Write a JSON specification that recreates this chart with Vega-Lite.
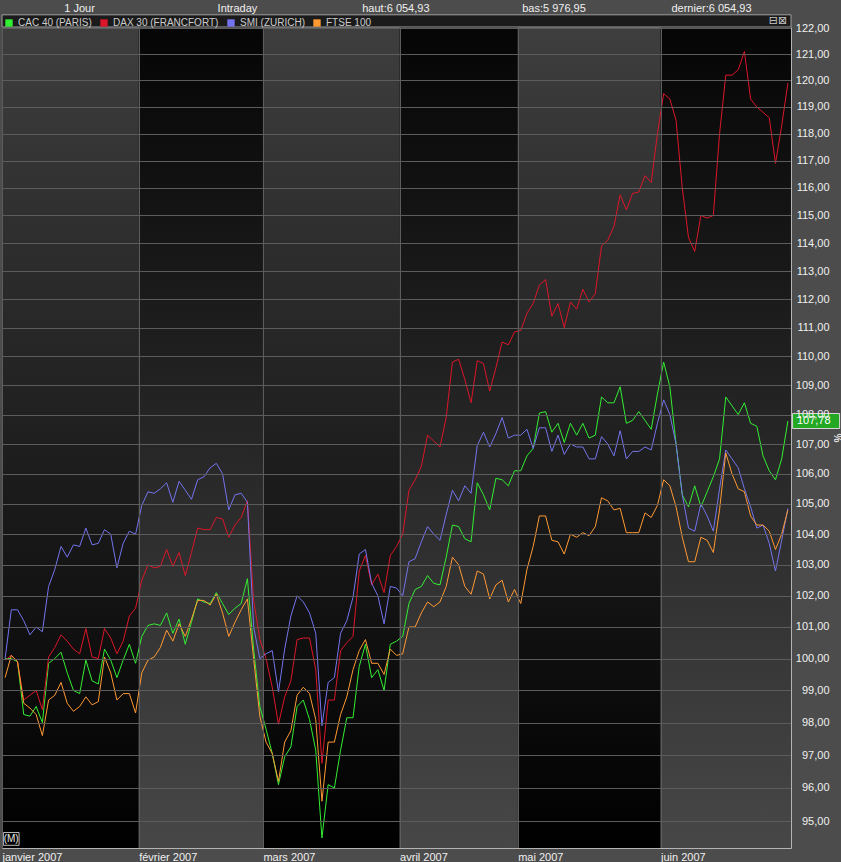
{
  "$schema": "https://vega.github.io/schema/vega-lite/v6.json",
  "width": 789,
  "height": 821,
  "autosize": {"type": "none"},
  "padding": {"left": 2, "top": 27, "right": 50, "bottom": 14},
  "background": "#4c4c4c",
  "config": {
    "view": {"stroke": null},
    "font": "Liberation Sans",
    "locale": {"number": {"decimal": ",", "thousands": "\u00a0", "grouping": [3], "currency": ["", "\u00a0€"]}}
  },
  "datasets": {
    "mois": [
      {"mois": "janvier 2007", "premiere": 1, "derniere": 22},
      {"mois": "février 2007", "premiere": 23, "derniere": 42},
      {"mois": "mars 2007", "premiere": 43, "derniere": 64},
      {"mois": "avril 2007", "premiere": 65, "derniere": 83},
      {"mois": "mai 2007", "premiere": 84, "derniere": 106},
      {"mois": "juin 2007", "premiere": 107, "derniere": 127}
    ],
    "cours": [
      {"s":1,"cac":100.0,"dax":99.95,"smi":100.0,"ftse":99.4},
      {"s":2,"cac":100.0,"dax":100.1,"smi":101.55,"ftse":100.1},
      {"s":3,"cac":99.9,"dax":99.9,"smi":101.55,"ftse":99.9},
      {"s":4,"cac":98.25,"dax":98.7,"smi":101.2,"ftse":98.6},
      {"s":5,"cac":98.2,"dax":98.85,"smi":100.75,"ftse":98.45},
      {"s":6,"cac":98.5,"dax":99.0,"smi":101.0,"ftse":98.25},
      {"s":7,"cac":98.0,"dax":98.4,"smi":100.85,"ftse":97.6},
      {"s":8,"cac":99.85,"dax":100.05,"smi":102.3,"ftse":98.7},
      {"s":9,"cac":100.0,"dax":100.35,"smi":102.85,"ftse":98.85},
      {"s":10,"cac":100.2,"dax":100.75,"smi":103.6,"ftse":99.25},
      {"s":11,"cac":99.55,"dax":100.55,"smi":103.25,"ftse":98.6},
      {"s":12,"cac":99.0,"dax":100.3,"smi":103.65,"ftse":98.35},
      {"s":13,"cac":98.9,"dax":100.15,"smi":103.6,"ftse":98.5},
      {"s":14,"cac":99.95,"dax":100.95,"smi":104.2,"ftse":98.8},
      {"s":15,"cac":99.3,"dax":100.05,"smi":103.65,"ftse":98.55},
      {"s":16,"cac":99.2,"dax":100.0,"smi":103.7,"ftse":98.65},
      {"s":17,"cac":100.3,"dax":100.95,"smi":104.15,"ftse":100.05},
      {"s":18,"cac":99.95,"dax":100.65,"smi":104.0,"ftse":99.55},
      {"s":19,"cac":99.4,"dax":100.15,"smi":102.9,"ftse":98.7},
      {"s":20,"cac":99.95,"dax":100.55,"smi":103.7,"ftse":98.9},
      {"s":21,"cac":100.45,"dax":101.35,"smi":104.1,"ftse":98.9},
      {"s":22,"cac":99.85,"dax":101.6,"smi":104.0,"ftse":98.3},
      {"s":23,"cac":100.7,"dax":102.5,"smi":104.95,"ftse":99.55},
      {"s":24,"cac":101.05,"dax":103.0,"smi":105.4,"ftse":99.95},
      {"s":25,"cac":101.1,"dax":102.9,"smi":105.35,"ftse":100.05},
      {"s":26,"cac":101.05,"dax":102.95,"smi":105.5,"ftse":100.35},
      {"s":27,"cac":101.45,"dax":103.5,"smi":105.7,"ftse":100.9},
      {"s":28,"cac":100.8,"dax":102.95,"smi":105.05,"ftse":100.55},
      {"s":29,"cac":101.25,"dax":103.4,"smi":105.75,"ftse":101.1},
      {"s":30,"cac":100.45,"dax":102.65,"smi":105.45,"ftse":100.7},
      {"s":31,"cac":101.15,"dax":103.4,"smi":105.15,"ftse":101.25},
      {"s":32,"cac":101.9,"dax":104.2,"smi":105.8,"ftse":101.85},
      {"s":33,"cac":101.8,"dax":104.15,"smi":105.9,"ftse":101.85},
      {"s":34,"cac":101.75,"dax":104.15,"smi":106.2,"ftse":101.7},
      {"s":35,"cac":102.1,"dax":104.55,"smi":106.35,"ftse":102.05},
      {"s":36,"cac":101.75,"dax":104.5,"smi":106.0,"ftse":101.45},
      {"s":37,"cac":101.4,"dax":103.9,"smi":104.8,"ftse":100.7},
      {"s":38,"cac":101.6,"dax":104.3,"smi":105.3,"ftse":101.15},
      {"s":39,"cac":101.75,"dax":104.55,"smi":105.35,"ftse":101.55},
      {"s":40,"cac":102.55,"dax":105.1,"smi":105.05,"ftse":101.9},
      {"s":41,"cac":100.3,"dax":101.85,"smi":101.0,"ftse":100.0},
      {"s":42,"cac":98.5,"dax":100.6,"smi":100.0,"ftse":98.2},
      {"s":43,"cac":97.8,"dax":100.0,"smi":100.15,"ftse":97.4},
      {"s":44,"cac":97.05,"dax":99.1,"smi":100.25,"ftse":97.05},
      {"s":45,"cac":96.1,"dax":97.95,"smi":98.95,"ftse":96.2},
      {"s":46,"cac":96.95,"dax":98.8,"smi":100.3,"ftse":97.4},
      {"s":47,"cac":97.25,"dax":99.3,"smi":101.35,"ftse":97.75},
      {"s":48,"cac":98.5,"dax":100.6,"smi":102.0,"ftse":98.85},
      {"s":49,"cac":98.7,"dax":100.65,"smi":101.8,"ftse":99.1},
      {"s":50,"cac":98.1,"dax":100.65,"smi":101.45,"ftse":98.9},
      {"s":51,"cac":97.15,"dax":99.65,"smi":100.8,"ftse":98.1},
      {"s":52,"cac":94.5,"dax":96.75,"smi":97.9,"ftse":95.6},
      {"s":53,"cac":96.1,"dax":98.7,"smi":99.25,"ftse":97.4},
      {"s":54,"cac":96.0,"dax":98.7,"smi":99.4,"ftse":97.4},
      {"s":55,"cac":97.15,"dax":100.25,"smi":100.8,"ftse":98.25},
      {"s":56,"cac":98.15,"dax":100.5,"smi":101.2,"ftse":98.8},
      {"s":57,"cac":98.15,"dax":100.7,"smi":101.95,"ftse":99.65},
      {"s":58,"cac":99.75,"dax":102.8,"smi":103.35,"ftse":100.25},
      {"s":59,"cac":100.45,"dax":103.3,"smi":103.5,"ftse":100.6},
      {"s":60,"cac":99.4,"dax":102.35,"smi":102.4,"ftse":99.85},
      {"s":61,"cac":99.65,"dax":102.7,"smi":102.0,"ftse":99.85},
      {"s":62,"cac":99.0,"dax":102.1,"smi":101.1,"ftse":99.5},
      {"s":63,"cac":100.45,"dax":103.3,"smi":102.3,"ftse":100.3},
      {"s":64,"cac":100.55,"dax":103.6,"smi":102.25,"ftse":100.1},
      {"s":65,"cac":100.7,"dax":104.0,"smi":102.0,"ftse":100.15},
      {"s":66,"cac":101.75,"dax":105.45,"smi":103.1,"ftse":101.0},
      {"s":67,"cac":102.2,"dax":105.8,"smi":103.2,"ftse":101.0},
      {"s":68,"cac":102.3,"dax":106.25,"smi":103.75,"ftse":101.45},
      {"s":69,"cac":102.65,"dax":107.3,"smi":104.25,"ftse":101.8},
      {"s":70,"cac":102.4,"dax":107.1,"smi":104.0,"ftse":101.65},
      {"s":71,"cac":102.35,"dax":106.9,"smi":103.8,"ftse":101.8},
      {"s":72,"cac":103.25,"dax":107.9,"smi":104.65,"ftse":102.3},
      {"s":73,"cac":104.3,"dax":109.8,"smi":105.45,"ftse":103.25},
      {"s":74,"cac":104.25,"dax":109.9,"smi":105.1,"ftse":103.0},
      {"s":75,"cac":103.85,"dax":109.2,"smi":105.6,"ftse":102.3},
      {"s":76,"cac":103.75,"dax":108.4,"smi":105.35,"ftse":102.05},
      {"s":77,"cac":105.7,"dax":109.85,"smi":106.95,"ftse":102.8},
      {"s":78,"cac":105.3,"dax":109.75,"smi":107.4,"ftse":102.7},
      {"s":79,"cac":104.8,"dax":108.8,"smi":106.9,"ftse":101.9},
      {"s":80,"cac":105.85,"dax":109.6,"smi":107.35,"ftse":102.35},
      {"s":81,"cac":105.8,"dax":110.5,"smi":107.9,"ftse":102.5},
      {"s":82,"cac":105.6,"dax":110.4,"smi":107.2,"ftse":101.8},
      {"s":83,"cac":106.1,"dax":110.85,"smi":107.3,"ftse":102.2},
      {"s":84,"cac":106.1,"dax":110.9,"smi":107.3,"ftse":101.75},
      {"s":85,"cac":106.6,"dax":111.5,"smi":107.5,"ftse":102.85},
      {"s":86,"cac":106.85,"dax":111.85,"smi":106.85,"ftse":103.6},
      {"s":87,"cac":108.05,"dax":112.5,"smi":107.55,"ftse":104.6},
      {"s":88,"cac":108.1,"dax":112.7,"smi":107.55,"ftse":104.6},
      {"s":89,"cac":107.4,"dax":111.4,"smi":106.75,"ftse":103.8},
      {"s":90,"cac":107.7,"dax":111.85,"smi":107.3,"ftse":103.75},
      {"s":91,"cac":107.05,"dax":111.0,"smi":106.65,"ftse":103.35},
      {"s":92,"cac":107.7,"dax":111.9,"smi":107.0,"ftse":104.0},
      {"s":93,"cac":107.3,"dax":111.65,"smi":106.9,"ftse":103.9},
      {"s":94,"cac":107.7,"dax":112.35,"smi":106.9,"ftse":104.05},
      {"s":95,"cac":107.2,"dax":111.9,"smi":106.5,"ftse":103.95},
      {"s":96,"cac":107.3,"dax":112.2,"smi":106.5,"ftse":104.25},
      {"s":97,"cac":108.6,"dax":113.9,"smi":107.25,"ftse":105.2},
      {"s":98,"cac":108.4,"dax":114.1,"smi":107.0,"ftse":105.1},
      {"s":99,"cac":108.4,"dax":114.6,"smi":106.6,"ftse":104.8},
      {"s":100,"cac":108.95,"dax":115.75,"smi":107.45,"ftse":104.85},
      {"s":101,"cac":107.7,"dax":115.2,"smi":106.5,"ftse":104.05},
      {"s":102,"cac":107.8,"dax":115.8,"smi":106.75,"ftse":104.05},
      {"s":103,"cac":108.1,"dax":115.85,"smi":106.75,"ftse":104.05},
      {"s":104,"cac":107.8,"dax":116.45,"smi":106.9,"ftse":104.7},
      {"s":105,"cac":107.5,"dax":116.2,"smi":106.8,"ftse":104.55},
      {"s":106,"cac":108.7,"dax":118.0,"smi":107.7,"ftse":104.95},
      {"s":107,"cac":109.8,"dax":119.5,"smi":108.5,"ftse":105.8},
      {"s":108,"cac":108.95,"dax":119.3,"smi":108.0,"ftse":105.6},
      {"s":109,"cac":107.0,"dax":118.5,"smi":107.0,"ftse":104.9},
      {"s":110,"cac":105.3,"dax":116.0,"smi":105.3,"ftse":103.9},
      {"s":111,"cac":104.9,"dax":114.2,"smi":104.2,"ftse":103.1},
      {"s":112,"cac":105.6,"dax":113.7,"smi":104.1,"ftse":103.1},
      {"s":113,"cac":104.9,"dax":115.0,"smi":105.0,"ftse":103.9},
      {"s":114,"cac":105.4,"dax":114.9,"smi":104.6,"ftse":103.8},
      {"s":115,"cac":105.9,"dax":115.0,"smi":104.1,"ftse":103.4},
      {"s":116,"cac":106.5,"dax":118.0,"smi":105.5,"ftse":104.8},
      {"s":117,"cac":108.6,"dax":120.2,"smi":106.8,"ftse":106.7},
      {"s":118,"cac":108.3,"dax":120.2,"smi":106.5,"ftse":106.0},
      {"s":119,"cac":108.0,"dax":120.4,"smi":106.2,"ftse":105.5},
      {"s":120,"cac":108.4,"dax":121.1,"smi":105.5,"ftse":105.4},
      {"s":121,"cac":107.7,"dax":119.3,"smi":104.9,"ftse":104.6},
      {"s":122,"cac":107.6,"dax":119.0,"smi":104.2,"ftse":104.3},
      {"s":123,"cac":106.6,"dax":118.8,"smi":104.3,"ftse":104.3},
      {"s":124,"cac":106.1,"dax":118.6,"smi":103.7,"ftse":104.1},
      {"s":125,"cac":105.8,"dax":116.9,"smi":102.8,"ftse":103.5},
      {"s":126,"cac":106.5,"dax":118.3,"smi":103.8,"ftse":104.0},
      {"s":127,"cac":107.78,"dax":119.9,"smi":104.85,"ftse":104.8}
    ]
  },
  "layer": [
    {
      "data": {"name": "mois"},
      "transform": [
        {"filter": {"field": "mois", "oneOf": ["janvier 2007", "mars 2007", "mai 2007"]}},
        {"calculate": "datum.premiere - 0.5", "as": "debut"},
        {"calculate": "datum.derniere + 0.5", "as": "fin"}
      ],
      "mark": {"type": "rect", "fill": {"gradient": "linear", "x1": 0, "y1": 0, "x2": 0, "y2": 1, "stops": [{"offset": 0, "color": "#3e3e3e"}, {"offset": 1, "color": "#000000"}]}},
      "encoding": {
        "x": {"field": "debut", "type": "quantitative", "scale": {"domain": [0.5, 127.5], "nice": false, "zero": false}},
        "x2": {"field": "fin"},
        "y": {"datum": 94.2},
        "y2": {"datum": 122.04}
      }
    },
    {
      "data": {"name": "mois"},
      "transform": [
        {"filter": {"field": "mois", "oneOf": ["février 2007", "avril 2007", "juin 2007"]}},
        {"calculate": "datum.premiere - 0.5", "as": "debut"},
        {"calculate": "datum.derniere + 0.5", "as": "fin"}
      ],
      "mark": {"type": "rect", "fill": {"gradient": "linear", "x1": 0, "y1": 0, "x2": 0, "y2": 1, "stops": [{"offset": 0, "color": "#050505"}, {"offset": 1, "color": "#474747"}]}},
      "encoding": {
        "x": {"field": "debut", "type": "quantitative"},
        "x2": {"field": "fin"},
        "y": {"datum": 94.2},
        "y2": {"datum": 122.04}
      }
    },
    {
      "data": {"values": [{}]},
      "mark": {"type": "rect", "fill": "#1b1b1b", "stroke": "#a0a0a0", "strokeWidth": 1, "clip": false},
      "encoding": {
        "x": {"datum": 0.5},
        "x2": {"datum": 127.5},
        "y": {"datum": 122.04},
        "y2": {"datum": 122.51}
      }
    },
    {
      "data": {"name": "cours"},
      "transform": [{"fold": ["cac", "dax", "smi", "ftse"], "as": ["indice", "valeur"]}],
      "mark": {"type": "line", "strokeWidth": 1},
      "encoding": {
        "x": {
          "field": "s", "type": "quantitative",
          "scale": {"domain": [0.5, 127.5], "nice": false, "zero": false},
          "axis": {
            "values": [0.5, 22.5, 42.5, 64.5, 83.5, 106.5],
            "labelExpr": "datum.value < 1 ? 'janvier 2007' : datum.value < 23 ? 'février 2007' : datum.value < 43 ? 'mars 2007' : datum.value < 65 ? 'avril 2007' : datum.value < 84 ? 'mai 2007' : 'juin 2007'",
            "title": null, "orient": "bottom", "grid": true, "gridColor": "#5c5c5c", "ticks": false,
            "domain": true, "domainColor": "#b4b4b4", "labelAlign": "left", "labelBaseline": "top",
            "labelPadding": 3, "labelColor": "#f0f0f0", "labelFont": "Liberation Sans", "labelFontSize": 11,
            "labelFlush": false, "labelOverlap": false, "labelBound": false, "zindex": 1
          }
        },
        "y": {
          "field": "valeur", "type": "quantitative",
          "scale": {"type": "log", "domain": [94.2, 122.04], "nice": false, "zero": false},
          "axis": {
            "orient": "right",
            "values": [95, 96, 97, 98, 99, 100, 101, 102, 103, 104, 105, 106, 107, 108, 109, 110, 111, 112, 113, 114, 115, 116, 117, 118, 119, 120, 121, 122],
            "labelExpr": "replace(format(datum.value, '.2f'), '.', ',')",
            "title": "%", "titleAngle": 90, "titleColor": "#e0e0e0", "titleFontSize": 10, "titlePadding": 2,
            "grid": true, "gridColor": "#5c5c5c", "ticks": false, "domain": true, "domainColor": "#b4b4b4",
            "labelAlign": "right", "labelPadding": 38, "labelColor": "#f0f0f0", "labelFont": "Liberation Sans",
            "labelFontSize": 11, "labelOverlap": false, "labelFlush": false, "zindex": 1
          }
        },
        "color": {
          "field": "indice", "type": "nominal",
          "scale": {"domain": ["cac", "dax", "smi", "ftse"], "range": ["#33ee33", "#dc1628", "#7474ee", "#ff9933"]},
          "legend": {
            "title": null, "orient": "top", "direction": "horizontal", "symbolType": "square", "symbolSize": 45,
            "labelExpr": "datum.label == 'cac' ? 'CAC 40 (PARIS)' : datum.label == 'dax' ? 'DAX 30 (FRANCFORT)' : datum.label == 'smi' ? 'SMI (ZURICH)' : 'FTSE 100'",
            "labelColor": "#cccccc", "labelFont": "Liberation Sans", "labelFontSize": 10,
            "columnPadding": 7, "labelOffset": 4, "padding": 2, "offset": -3,
            "encode": {"symbols": {"update": {"fill": {"scale": "color", "field": "value"}, "stroke": {"value": "#d8d8d8"}, "strokeWidth": {"value": 0.6}, "opacity": {"value": 1}}}}
          }
        }
      }
    },
    {
      "data": {"name": "cours"},
      "transform": [{"filter": "datum.s == 127"}],
      "mark": {"type": "point", "shape": "M0.235,-0.375H2.585V0.375H0.235Z", "size": 1600, "filled": true, "fill": "#22a822", "stroke": "#d8d8d8", "strokeWidth": 1, "opacity": 1, "clip": false},
      "encoding": {
        "x": {"field": "s", "type": "quantitative"},
        "y": {"field": "cac", "type": "quantitative"}
      }
    },
    {
      "data": {"name": "cours"},
      "transform": [{"filter": "datum.s == 127"}],
      "mark": {"type": "text", "align": "left", "baseline": "middle", "dx": 9, "fontSize": 11, "font": "Liberation Sans", "color": "#ffffff", "clip": false},
      "encoding": {
        "x": {"field": "s", "type": "quantitative"},
        "y": {"field": "cac", "type": "quantitative"},
        "text": {"field": "cac", "type": "quantitative", "format": ".2f"}
      }
    },
    {
      "data": {"values": [{}]},
      "mark": {"type": "text", "text": "1 Jour", "align": "center", "baseline": "middle", "fontSize": 11, "font": "Liberation Sans", "color": "#f0f0f0", "clip": false},
      "encoding": {"x": {"datum": 12.98}, "y": {"datum": 122.72}}
    },
    {
      "data": {"values": [{}]},
      "mark": {"type": "text", "text": "Intraday", "align": "center", "baseline": "middle", "fontSize": 11, "font": "Liberation Sans", "color": "#f0f0f0", "clip": false},
      "encoding": {"x": {"datum": 38.4}, "y": {"datum": 122.72}}
    },
    {
      "data": {"values": [{}]},
      "mark": {"type": "text", "text": "haut:6 054,93", "align": "center", "baseline": "middle", "fontSize": 11, "font": "Liberation Sans", "color": "#f0f0f0", "clip": false},
      "encoding": {"x": {"datum": 63.9}, "y": {"datum": 122.72}}
    },
    {
      "data": {"values": [{}]},
      "mark": {"type": "text", "text": "bas:5 976,95", "align": "center", "baseline": "middle", "fontSize": 11, "font": "Liberation Sans", "color": "#f0f0f0", "clip": false},
      "encoding": {"x": {"datum": 89.35}, "y": {"datum": 122.72}}
    },
    {
      "data": {"values": [{}]},
      "mark": {"type": "text", "text": "dernier:6 054,93", "align": "center", "baseline": "middle", "fontSize": 11, "font": "Liberation Sans", "color": "#f0f0f0", "clip": false},
      "encoding": {"x": {"datum": 114.7}, "y": {"datum": 122.72}}
    },
    {
      "data": {"values": [{}]},
      "mark": {"type": "text", "text": "⊟⊠", "align": "center", "baseline": "middle", "fontSize": 11, "font": "DejaVu Sans", "color": "#c8c8c8", "clip": false},
      "encoding": {"x": {"datum": 125.4}, "y": {"datum": 122.28}}
    },
    {
      "data": {"values": [{}]},
      "mark": {"type": "rect", "fill": null, "fillOpacity": 0, "stroke": "#bdbdbd", "strokeWidth": 1},
      "encoding": {"x": {"datum": 0.72}, "x2": {"datum": 3.25}, "y": {"datum": 94.28}, "y2": {"datum": 94.66}}
    },
    {
      "data": {"values": [{}]},
      "mark": {"type": "text", "text": "(M)", "align": "center", "baseline": "middle", "fontSize": 10, "font": "Liberation Sans", "color": "#e6e6e6"},
      "encoding": {"x": {"datum": 1.98}, "y": {"datum": 94.47}}
    }
  ]
}
